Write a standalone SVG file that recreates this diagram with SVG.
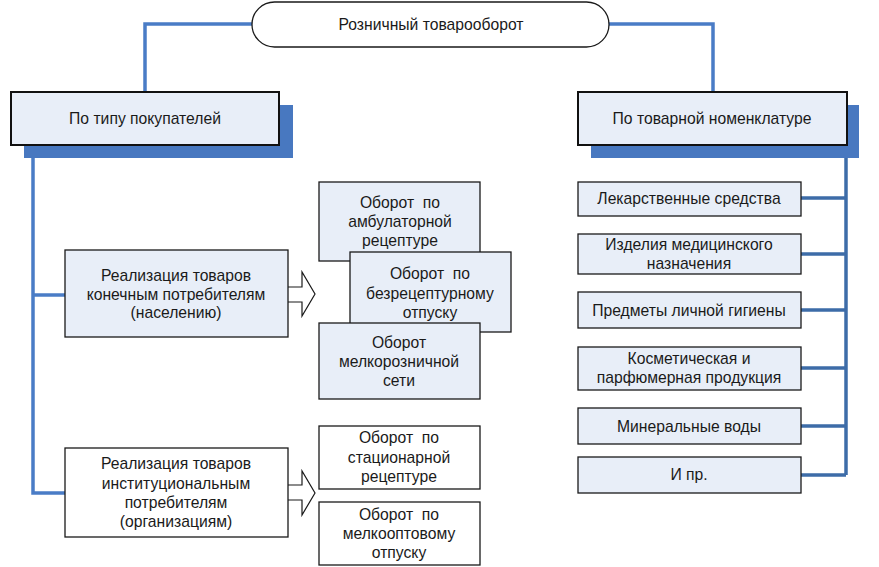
<svg xmlns="http://www.w3.org/2000/svg" width="879" height="567" viewBox="0 0 879 567">
<style>
text{font-family:"Liberation Sans",Arial,sans-serif;font-size:15.7px;fill:#1a1a1a;text-anchor:middle;white-space:pre}
.bl{fill:#e8eef8;stroke:#1a1a1a;stroke-width:1.3}
.wh{fill:#ffffff;stroke:#1a1a1a;stroke-width:1.3}
.hd{fill:#e8eef8;stroke:#111;stroke-width:2}
.sh{fill:#4878c0}
.cl{fill:none;stroke:#4a7cc6;stroke-width:3.5}
.cr{fill:none;stroke:#3d6ca8;stroke-width:3.5}
.ar{fill:#ffffff;stroke:#1a1a1a;stroke-width:1.2}
</style>
<g id="connectors">
<path class="cl" d="M252 24 H145 V92"/>
<path class="cl" d="M609 24 H713 V92"/>
<path class="cl" d="M33 145 V493 H66"/>
<path class="cl" d="M33 295 H66"/>
<path class="cr" d="M846 158 V475"/>
<path class="cr" d="M801 198 H846 M801 254 H846 M801 310 H846 M801 368 H846 M801 426 H846 M801 475 H846"/>
<path class="ar" d="M288 287 H302 V272 L315 294 L302 316 V302 H288"/>
<path class="ar" d="M288 485 H302 V471 L315 493 L302 515 V500 H288"/>
</g>
<g id="root">
<rect x="252" y="2" width="357" height="45" rx="22.5" fill="#fff" stroke="#1a1a1a" stroke-width="1.3"/>
<text x="431" y="30">Розничный товарооборот</text>
</g>
<g id="by-buyer">
<rect class="sh" x="24" y="105" width="269" height="53"/>
<rect class="hd" x="11" y="92" width="268" height="53"/>
<text x="145" y="123.5">По типу покупателей</text>
</g>
<g id="by-nomenclature">
<rect class="sh" x="591" y="105" width="268" height="53"/>
<rect class="hd" x="578" y="92" width="269" height="53"/>
<text x="712" y="123.5">По товарной номенклатуре</text>
</g>
<g id="end-consumers">
<rect class="bl" x="65" y="250" width="223" height="87"/>
<text x="176" y="280.5">Реализация товаров</text>
<text x="176" y="299.5">конечным потребителям</text>
<text x="176" y="317.5">(населению)</text>
</g>
<g id="ambulatory">
<rect class="bl" x="319" y="182" width="161" height="79"/>
<text x="400" y="207.5">Оборот  по</text>
<text x="400" y="226.5">амбулаторной</text>
<text x="400" y="245.5">рецептуре</text>
</g>
<g id="otc">
<rect class="bl" x="350" y="252" width="161" height="80"/>
<text x="430" y="278.5">Оборот  по</text>
<text x="430" y="298.5">безрецептурному</text>
<text x="430" y="317.5">отпуску</text>
</g>
<g id="small-retail">
<rect class="bl" x="319" y="323" width="161" height="76"/>
<text x="399" y="347.5">Оборот</text>
<text x="399" y="366.5">мелкорозничной</text>
<text x="399" y="385.5">сети</text>
</g>
<g id="institutional">
<rect class="wh" x="65" y="448" width="223" height="89"/>
<text x="176" y="468.5">Реализация товаров</text>
<text x="176" y="488.5">институциональным</text>
<text x="176" y="507.5">потребителям</text>
<text x="176" y="526.5">(организациям)</text>
</g>
<g id="stationary">
<rect class="wh" x="319" y="426" width="161" height="63"/>
<text x="399" y="442.5">Оборот  по</text>
<text x="399" y="462.5">стационарной</text>
<text x="399" y="481.5">рецептуре</text>
</g>
<g id="small-wholesale">
<rect class="wh" x="319" y="502" width="161" height="63"/>
<text x="399" y="519.5">Оборот  по</text>
<text x="399" y="538.5">мелкооптовому</text>
<text x="399" y="557.5">отпуску</text>
</g>
<g id="drugs">
<rect class="bl" x="578" y="182" width="223" height="34"/>
<text x="689" y="203.5">Лекарственные средства</text>
</g>
<g id="medical-products">
<rect class="bl" x="578" y="234" width="223" height="40"/>
<text x="689" y="249.5">Изделия медицинского</text>
<text x="689" y="268.5">назначения</text>
</g>
<g id="hygiene">
<rect class="bl" x="578" y="292" width="223" height="36"/>
<text x="689" y="315.5">Предметы личной гигиены</text>
</g>
<g id="cosmetics">
<rect class="bl" x="578" y="347" width="223" height="43"/>
<text x="689" y="363.5">Косметическая и</text>
<text x="689" y="382.5">парфюмерная продукция</text>
</g>
<g id="mineral-water">
<rect class="bl" x="578" y="408" width="223" height="36"/>
<text x="689" y="431.5">Минеральные воды</text>
</g>
<g id="other">
<rect class="bl" x="578" y="457" width="223" height="36"/>
<text x="689" y="479.5">И пр.</text>
</g>
</svg>
